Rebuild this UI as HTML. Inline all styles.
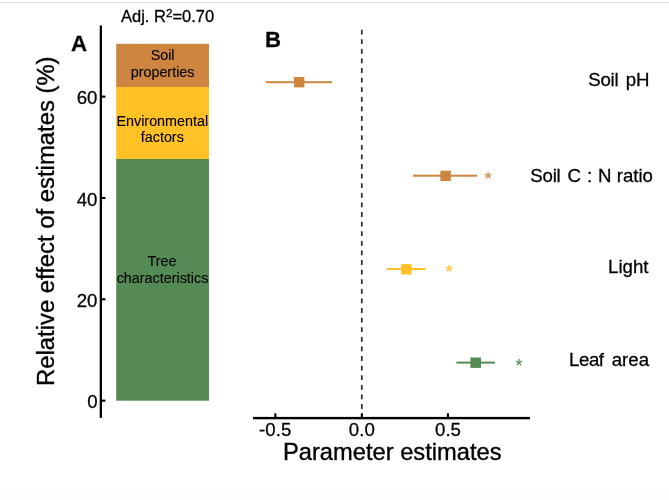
<!DOCTYPE html>
<html>
<head>
<meta charset="utf-8">
<title>Figure</title>
<style>
html,body{margin:0;padding:0;background:#fff;}
body{width:669px;height:500px;overflow:hidden;position:relative;}
svg{position:absolute;left:0;top:0;display:block;}
text{font-family:"Liberation Sans",Arial,Helvetica,sans-serif;fill:#000;stroke:#000;stroke-width:0.27px;}
text.big{stroke-width:0.35px;}
.small text{stroke-width:0.12px;}
</style>
</head>
<body>
<svg width="669" height="500" viewBox="0 0 669 500">
<rect x="0" y="0" width="669" height="500" fill="#ffffff"/>
<rect x="0" y="2" width="669" height="1" fill="#dcdcdc"/>
<rect x="0" y="492" width="669" height="8" fill="#fefefe"/>

<!-- Panel A -->
<text x="121" y="21.5" font-size="16.5">Adj. R<tspan font-size="11.6" dy="-4.2">2</tspan><tspan dy="4.2">=0.70</tspan></text>
<text x="70.9" y="50.6" font-size="22.3" font-weight="bold">A</text>
<text transform="translate(54,386) rotate(-90)" font-size="23.85" class="big">Relative effect of estimates (%)</text>

<!-- y axis -->
<rect x="99.7" y="25.5" width="2.3" height="392.4" fill="#000"/>
<g fill="#000">
<rect x="102" y="95.6" width="3.4" height="2.1"/>
<rect x="102" y="196.95" width="3.4" height="2.1"/>
<rect x="102" y="298.25" width="3.4" height="2.1"/>
<rect x="102" y="399.6" width="3.4" height="2.1"/>
</g>
<g font-size="18.67" text-anchor="end">
<text x="97.4" y="104.4">60</text>
<text x="97.4" y="205.75">40</text>
<text x="97.4" y="307.05">20</text>
<text x="97.6" y="408.4">0</text>
</g>

<!-- stacked bar -->
<rect x="116.2" y="43.8" width="92.8" height="43.4" fill="#CD853F"/>
<rect x="116.2" y="87.0" width="92.8" height="72.2" fill="#FFC125"/>
<rect x="116.2" y="159" width="92.8" height="241.7" fill="#548B54"/>
<g font-size="14.35" text-anchor="middle" class="small">
<text x="162.6" y="59.9">Soil</text>
<text x="162.6" y="76.8">properties</text>
<text x="162.3" y="125.9">Environmental</text>
<text x="162.3" y="142.3">factors</text>
<text x="162" y="265.8">Tree</text>
<text x="162.5" y="283">characteristics</text>
</g>

<!-- Panel B -->
<text x="264.9" y="47" font-size="22.2" font-weight="bold">B</text>
<line x1="361.8" y1="29.7" x2="361.8" y2="417" stroke="#2a2a2a" stroke-width="1.7" stroke-dasharray="4.8 4.8"/>

<!-- x axis -->
<rect x="253" y="416.9" width="277" height="2.4" fill="#000"/>
<g fill="#000">
<rect x="274.3" y="413.3" width="2.1" height="4"/>
<rect x="360.8" y="413.3" width="2.1" height="4"/>
<rect x="446.9" y="413.3" width="2.1" height="4"/>
</g>
<g font-size="18.67" text-anchor="middle">
<text x="275.2" y="435.6">-0.5</text>
<text x="361.8" y="435.8">0.0</text>
<text x="448" y="435.8">0.5</text>
</g>
<text x="283.0" y="460.2" font-size="23.7" class="big">Parameter estimates</text>

<!-- points -->
<g>
<rect x="265.8" y="81.2" width="66.2" height="2" fill="#CD853F"/>
<rect x="294" y="77" width="10.4" height="10.4" fill="#CD853F"/>

<rect x="413" y="174.7" width="64" height="2" fill="#CD853F"/>
<rect x="440.4" y="170.7" width="10.4" height="10.4" fill="#CD853F"/>
<text x="488" y="184.5" font-size="18.5" text-anchor="middle" style="fill:#CD853F;stroke:#CD853F;stroke-width:0.1px">*</text>

<rect x="387" y="268" width="38.6" height="2" fill="#FFC125"/>
<rect x="401.2" y="264.1" width="10.4" height="10.4" fill="#FFC125"/>
<text x="449.2" y="278" font-size="18.5" text-anchor="middle" style="fill:#FFC125;stroke:#FFC125;stroke-width:0.1px">*</text>

<rect x="456.4" y="361.6" width="38.6" height="2" fill="#548B54"/>
<rect x="470.4" y="357.5" width="10.6" height="10.4" fill="#548B54"/>
<text x="519" y="371.5" font-size="18" text-anchor="middle" style="fill:#548B54;stroke:#548B54;stroke-width:0.1px">*</text>
</g>

<g font-size="18.67">
<text y="85.8"><tspan x="588.2" letter-spacing="-0.25">Soil </tspan><tspan x="625.7">pH</tspan></text>
<text y="182"><tspan x="530.25" letter-spacing="-0.2">Soil </tspan><tspan x="567.57">C </tspan><tspan x="587">: </tspan><tspan x="598">N </tspan><tspan x="616.7">ratio</tspan></text>
<text x="608.0" y="272.8">Light</text>
<text y="366"><tspan x="569.1" letter-spacing="-0.45">Leaf </tspan><tspan x="611.7">area</tspan></text>
</g>
</svg>
</body>
</html>
